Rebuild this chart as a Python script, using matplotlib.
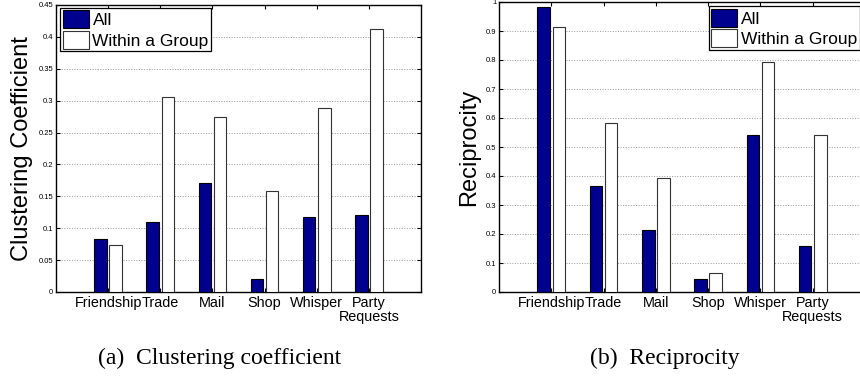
import numpy as np
import matplotlib.pyplot as plt
from matplotlib.ticker import FuncFormatter

categories = ['Friendship', 'Trade', 'Mail', 'Shop', 'Whisper', 'Party\nRequests']
series = ['All', 'Within a Group']

clust_all = [0.0826, 0.110, 0.171, 0.021, 0.1176, 0.1212]
clust_group = [0.0742, 0.3056, 0.2748, 0.1588, 0.2889, 0.4117]

recip_all = [0.983, 0.364, 0.213, 0.045, 0.5425, 0.159]
recip_group = [0.913, 0.583, 0.394, 0.067, 0.794, 0.540]

plt.rcParams['font.family'] = ['Liberation Sans', 'DejaVu Sans']

fig = plt.figure(figsize=(8.6, 3.76), dpi=100)


def draw(ax, all_vals, group_vals, ylabel, ymax, yticks, legend_anchor):
    x = np.arange(1, len(categories) + 1)
    w = 0.24
    ax.bar(x - 0.145, all_vals, w, color='#00008F', edgecolor='black',
           linewidth=0.8, label=series[0], zorder=3)
    ax.bar(x + 0.145, group_vals, w, color='white', edgecolor='#333333',
           linewidth=0.8, label=series[1], zorder=3)
    ax.set_xlim(0, 7)
    ax.set_ylim(0, ymax)
    ax.set_xticks(x)
    ax.set_xticklabels(categories, fontsize=10.4, linespacing=1.0)
    ax.set_yticks(yticks)
    ax.yaxis.set_major_formatter(FuncFormatter(lambda v, p: '%g' % round(v, 3)))
    for lab in ax.get_yticklabels():
        lab.set_fontsize(5.5)
    ax.tick_params(direction='in', top=True, right=True, length=3, width=0.8, pad=2)
    ax.tick_params(axis='x', pad=3)
    ax.yaxis.grid(True, linestyle=':', color='#999999', linewidth=0.7, zorder=0)
    for s in ax.spines.values():
        s.set_linewidth(1.0)
    ax.set_ylabel(ylabel, fontsize=17, labelpad=4)
    leg = ax.legend(loc='upper left', bbox_to_anchor=legend_anchor, fontsize=12.5,
                    fancybox=False, edgecolor='black', framealpha=1,
                    handlelength=1.5, handleheight=1.2, handletextpad=0.2,
                    borderpad=0.15, labelspacing=0.15, borderaxespad=0)
    leg.get_frame().set_linewidth(0.9)


ax1 = fig.add_axes([56 / 860, 84 / 376, 365 / 860, 287 / 376])
draw(ax1, clust_all, clust_group, 'Clustering Coefficient', 0.45,
     np.arange(0, 0.451, 0.05), (0.012, 0.99))

ax2 = fig.add_axes([499 / 860, 84 / 376, 366 / 860, 290 / 376])
draw(ax2, recip_all, recip_group, 'Reciprocity', 1.0,
     np.arange(0, 1.01, 0.1), (0.573, 0.985))

fig.text(220 / 860, 0.048, '(a)  Clustering coefficient', ha='center', va='center',
         fontsize=17, family='Liberation Serif')
fig.text(665 / 860, 0.048, '(b)  Reciprocity', ha='center', va='center',
         fontsize=17, family='Liberation Serif')

fig.savefig('out.png', dpi=100)
